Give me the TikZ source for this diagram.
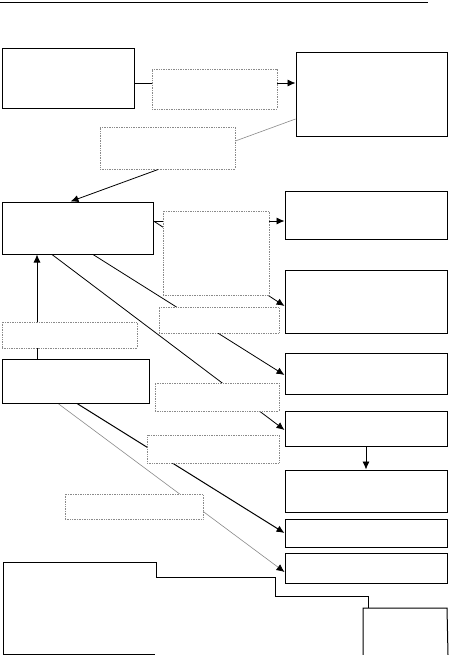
\documentclass[tikz,border=0pt]{standalone}
\usepackage{xcolor}
\usepackage{tikz}
\usetikzlibrary{arrows.meta,backgrounds}
\definecolor{Ink}{HTML}{000000}
\definecolor{NoteGrey}{HTML}{8A8A8A}
\tikzset{
  chartbox/.style={draw=Ink, line width=1pt, fill=white, inner sep=0pt},
  notebox/.style={draw=NoteGrey, densely dotted, line width=0.7pt, fill=white, inner sep=0pt},
  flowarrow/.style={-{Latex[length=8pt,width=7pt]}, draw=Ink, line width=0.8pt},
  greyarrow/.style={-{Latex[length=8pt,width=7pt,color=Ink]}, draw=NoteGrey, line width=0.6pt},
  greyline/.style={draw=NoteGrey, line width=0.6pt},
  plainline/.style={draw=Ink, line width=1pt}
}

\begin{document}
\begin{tikzpicture}[x=1pt,y=-1pt]
  \useasboundingbox (0,0) rectangle (448,655);
  \draw[line width=0.8pt] (0,2) -- (428,2);

  % left column
  \node[chartbox, minimum width=132pt, minimum height=60pt] (l0) at (68,79) {};
  \node[chartbox, minimum width=151pt, minimum height=52pt] (l1) at (77.5,228) {};
  \node[chartbox, minimum width=147pt, minimum height=44pt] (l2) at (75.5,381) {};

  % right column
  \node[chartbox, minimum width=151pt, minimum height=84pt] (r0) at (371.5,95) {};
  \node[chartbox, minimum width=162pt, minimum height=48pt] (r1) at (366,215) {};
  \node[chartbox, minimum width=162pt, minimum height=63pt] (r2) at (366,301.5) {};
  \node[chartbox, minimum width=162pt, minimum height=41pt] (r3) at (366,373.5) {};
  \node[chartbox, minimum width=162pt, minimum height=35pt] (r4) at (366,428.5) {};
  \node[chartbox, minimum width=162pt, minimum height=42pt] (r5) at (366,491) {};
  \node[chartbox, minimum width=162pt, minimum height=28pt] (r6) at (366,533) {};
  \node[chartbox, minimum width=162pt, minimum height=30pt] (r7) at (366,568) {};

  % dotted notes
  \node[notebox, minimum width=125pt, minimum height=40pt] (n0) at (214.5,89) {};
  \node[notebox, minimum width=135pt, minimum height=42pt] (n1) at (167.5,148) {};
  \node[notebox, minimum width=106pt, minimum height=84pt] (n2) at (216,253) {};
  \node[notebox, minimum width=120pt, minimum height=26pt] (n3) at (219,320) {};
  \node[notebox, minimum width=124pt, minimum height=28pt] (n4) at (217,397) {};
  \node[notebox, minimum width=135pt, minimum height=26pt] (n5) at (69.5,335) {};
  \node[notebox, minimum width=132pt, minimum height=28pt] (n6) at (213,449) {};
  \node[notebox, minimum width=138pt, minimum height=25pt] (n7) at (134,506.5) {};

  \begin{pgfonlayer}{background}
    \draw[flowarrow] ([yshift=-4pt]l0.east) -- ([yshift=-4pt]l0.east -| r0.west);
    \draw[greyline] ([yshift=-24pt]r0.west) -- ([yshift=7pt]n1.east);
    \draw[flowarrow] ([xshift=-9pt]n1.south) -- ([xshift=-7pt]l1.north);
    \draw[flowarrow] ([yshift=7pt]l1.east) -- ([yshift=7pt]l1.east -| r1.west);
    \draw[flowarrow] ([yshift=7pt]l1.east) -- ([yshift=-4.5pt]r2.west);
    \draw[flowarrow] ([xshift=15.5pt]l1.south) -- ([yshift=-1.5pt]r3.west);
    \draw[flowarrow] ([xshift=-25.5pt]l1.south) -- ([yshift=-1.5pt]r4.west);
    \draw[flowarrow] ([xshift=-38.5pt]l2.north) -- ([xshift=-38.5pt]l2.north |- l1.south);
    \draw[flowarrow] (r4.south) -- (r5.north);
    \draw[flowarrow, line width=1pt] ([xshift=1.5pt]l2.south) -- (r6.west);
    \draw[greyarrow] ([xshift=-17.5pt]l2.south) -- ([yshift=-4pt]r7.west);
  \end{pgfonlayer}

  % cut-off boxes at the foot of the page
  \coordinate (mcorner) at (156,562);
  \coordinate (ntop) at (368,608);
  \draw[plainline] (mcorner) -- (3,562) -- (3,654) -- (155,654);
  \draw[plainline] (448,655) -- (447,608) -- (363,608) -- (363,655);
  \draw[plainline] (mcorner) |- (275,577) |- (368,596) -- (ntop);
\end{tikzpicture}
\end{document}
